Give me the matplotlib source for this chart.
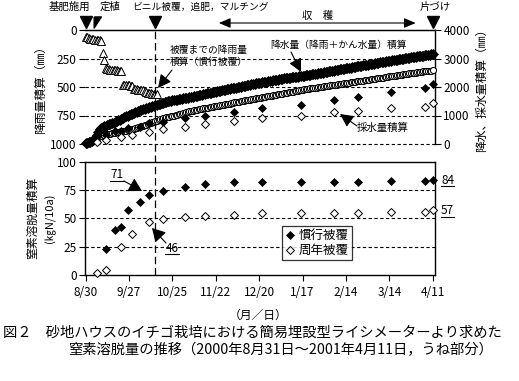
import matplotlib
matplotlib.use('Agg')
import matplotlib.pyplot as plt
import matplotlib.transforms as mtransforms
from matplotlib.lines import Line2D

plt.rcParams['font.family'] = ['Noto Sans CJK JP', 'DejaVu Sans']

W, H = 519, 381

# ---------------- data ----------------
tick_days = [0, 28, 56, 84, 112, 140, 168, 196, 224]
tick_labels = ['8/30', '9/27', '10/25', '11/22', '12/20', '1/17', '2/14', '3/14', '4/11']

# cumulative rainfall until covering (mm), days 0..46 from 8/30
rain_cum = [60, 65, 70, 75, 80, 80, 85, 85, 90, 90, 95, 200, 265, 335, 345,
            345, 350, 350, 355, 355, 355, 360, 360, 360, 480, 480, 482, 485, 485, 488,
            490, 515, 518, 520, 522, 525, 528, 530, 532, 548, 550, 552, 555, 558, 560,
            562, 565]

# cumulative precipitation (rain + irrigation), conventional covering, days 0..224
precip_conv = [40, 45, 55, 80, 110, 150, 200, 310, 420, 520, 560, 590, 620, 645, 670,
               690, 705, 720, 740, 770, 800, 830, 855, 880, 910, 940, 965, 1000, 1020, 1045,
               1070, 1090, 1115, 1135, 1160, 1180, 1200, 1220, 1240, 1260, 1280, 1295, 1315, 1330, 1345,
               1360, 1380, 1395, 1410, 1430, 1450, 1465, 1480, 1495, 1510, 1520, 1530, 1540, 1550, 1560,
               1570, 1580, 1590, 1600, 1610, 1620, 1630, 1640, 1652, 1664, 1676, 1688, 1700, 1712, 1724,
               1736, 1748, 1760, 1772, 1784, 1790, 1802, 1814, 1826, 1838, 1850, 1861, 1872, 1883, 1894,
               1905, 1916, 1927, 1938, 1949, 1960, 1971, 1982, 1993, 2004, 2015, 2026, 2037, 2048, 2059,
               2070, 2081, 2092, 2103, 2114, 2125, 2133, 2140, 2150, 2160, 2170, 2180, 2190, 2200, 2210,
               2220, 2230, 2240, 2250, 2260, 2270, 2280, 2290, 2300, 2305, 2310, 2318, 2326, 2334, 2342,
               2350, 2358, 2366, 2374, 2382, 2390, 2399, 2408, 2417, 2426, 2435, 2444, 2453, 2462, 2471,
               2480, 2489, 2498, 2508, 2518, 2528, 2538, 2548, 2558, 2568, 2578, 2588, 2598, 2608, 2618,
               2628, 2638, 2645, 2650, 2660, 2670, 2680, 2690, 2700, 2710, 2720, 2730, 2740, 2750, 2755,
               2760, 2770, 2780, 2790, 2800, 2810, 2820, 2830, 2840, 2850, 2860, 2870, 2880, 2890, 2900,
               2905, 2910, 2920, 2930, 2940, 2950, 2960, 2970, 2980, 2990, 3000, 3010, 3020, 3030, 3035,
               3040, 3048, 3056, 3064, 3072, 3080, 3088, 3096, 3104, 3112, 3120, 3128, 3136, 3143, 3150]

# cumulative precipitation, year-round covering, days 0..224
precip_year = [40, 45, 55, 70, 95, 130, 175, 215, 245, 270, 290, 305, 320, 335, 345,
               355, 365, 378, 390, 400, 410, 420, 430, 440, 450, 460, 470, 480, 490, 500,
               515, 530, 548, 566, 584, 602, 620, 638, 660, 680, 700, 720, 740, 760, 780,
               800, 820, 840, 860, 880, 900, 915, 930, 945, 960, 972, 985, 1000, 1015, 1030,
               1040, 1055, 1070, 1085, 1100, 1115, 1130, 1145, 1160, 1170, 1180, 1190, 1205, 1220, 1230,
               1240, 1250, 1260, 1270, 1280, 1290, 1300, 1310, 1320, 1330, 1340, 1350, 1360, 1370, 1380,
               1390, 1400, 1410, 1420, 1435, 1450, 1460, 1470, 1480, 1490, 1500, 1510, 1520, 1530, 1540,
               1550, 1560, 1570, 1580, 1590, 1600, 1610, 1620, 1630, 1640, 1650, 1660, 1670, 1680, 1690,
               1700, 1710, 1720, 1730, 1740, 1750, 1760, 1770, 1780, 1790, 1800, 1810, 1820, 1830, 1840,
               1850, 1860, 1870, 1880, 1895, 1910, 1918, 1926, 1934, 1942, 1950, 1958, 1966, 1974, 1982,
               1990, 1998, 2006, 2014, 2022, 2030, 2038, 2046, 2054, 2062, 2070, 2078, 2086, 2094, 2102,
               2110, 2120, 2130, 2140, 2148, 2156, 2164, 2172, 2180, 2188, 2196, 2204, 2212, 2220, 2228,
               2236, 2244, 2252, 2260, 2268, 2276, 2284, 2292, 2300, 2308, 2316, 2324, 2332, 2340, 2350,
               2360, 2370, 2378, 2386, 2394, 2402, 2410, 2418, 2426, 2434, 2442, 2450, 2458, 2466, 2474,
               2482, 2490, 2498, 2506, 2514, 2522, 2530, 2538, 2545, 2552, 2559, 2566, 2572, 2577, 2580]

# sampling days and cumulative drainage (mm)
days_conv = [13, 19, 23, 27, 35, 41, 50, 64, 77, 96, 114, 139, 160, 176, 197, 219, 224]
drain_conv = [320, 440, 470, 550, 610, 720, 780, 900, 980, 1110, 1250, 1370, 1540, 1660, 1840, 1950, 2090]
days_year = [7, 13, 23, 30, 41, 50, 64, 77, 96, 114, 139, 160, 176, 197, 219, 224]
drain_year = [60, 140, 257, 316, 432, 515, 608, 702, 818, 900, 993, 1110, 1158, 1250, 1310, 1450]

# cumulative nitrogen leaching (kgN/10a)
n_conv = [23, 40, 42, 57, 64, 71, 74, 78, 80, 82, 82, 82, 82, 82, 83, 83, 84]
n_year = [2, 4, 25, 36, 47, 49, 51, 52, 53, 55, 55, 55, 55, 56, 56, 57]

cover_day = 45
event_days = [0, 7, 45, 224]
harvest_start, harvest_end = 86, 213

# ---------------- helpers ----------------
def fx(x):
    return x / W

def fy(y):
    return 1 - y / H

fig = plt.figure(figsize=(W / 100, H / 100), dpi=100)
fig.patch.set_facecolor('white')

XL = (-0.45, 225.5)
grid_kw = dict(color='black', lw=0.8, ls=(0, (3, 2.2)))
tick_kw = dict(direction='out', length=4, width=0.8, labelsize=8.5, pad=2, colors='black')

# ---------------- top panel ----------------
ax_t = fig.add_axes([fx(85), fy(144), 350 / W, 114 / H])
ax_t.set_xlim(*XL)
ax_t.set_ylim(1000, 0)
ax_t.set_yticks([0, 250, 500, 750, 1000])
ax_t.set_xticks([])
ax_t.tick_params(axis='y', **tick_kw)
for s in ['left', 'bottom', 'right']:
    ax_t.spines[s].set_visible(False)
ax_t.spines['top'].set_linewidth(1.0)
for v in [250, 500, 750, 1000]:
    ax_t.axhline(v, clip_on=False, zorder=0, **grid_kw)
ax_t.set_ylabel('降雨量積算（㎜）', fontsize=8.5, labelpad=2)

ax_t2 = ax_t.twinx()
ax_t2.set_xlim(*XL)
ax_t2.set_ylim(0, 4000)
ax_t2.set_yticks([0, 1000, 2000, 3000, 4000])
ax_t2.tick_params(axis='y', **tick_kw)
for s in ['left', 'bottom']:
    ax_t2.spines[s].set_visible(False)
ax_t2.spines['right'].set_linewidth(1.0)
ax_t2.set_ylabel('降水、採水量積算（㎜）', fontsize=8.5, labelpad=4)
ax_t2.patch.set_visible(False)

rain_days = list(range(len(rain_cum)))
ax_t.plot(rain_days, rain_cum, ls='none', marker='^', ms=5.5, mfc='white', mec='black',
          mew=0.7, clip_on=False, zorder=3)

pdays = list(range(len(precip_conv)))
ax_t2.plot(pdays, precip_year, ls='none', marker='o', ms=4.4, mfc='white', mec='black',
           mew=0.7, clip_on=False, zorder=3)
ax_t2.plot(pdays, precip_conv, ls='none', marker='D', ms=5.0, mfc='black', mec='black',
           mew=0.5, clip_on=False, zorder=3)
ax_t2.plot(days_conv, drain_conv, ls='none', marker='D', ms=3.6, mfc='black', mec='black',
           mew=0.5, clip_on=False, zorder=4)
ax_t2.plot(days_year, drain_year, ls='none', marker='D', ms=3.6, mfc='white', mec='black',
           mew=0.7, clip_on=False, zorder=4)

# ---------------- bottom panel ----------------
ax_b = fig.add_axes([fx(85), fy(275), 350 / W, 113.3 / H])
ax_b.set_xlim(*XL)
ax_b.set_ylim(0, 100)
ax_b.set_yticks([0, 25, 50, 75, 100])
ax_b.set_xticks(tick_days)
ax_b.set_xticklabels(tick_labels)
ax_b.tick_params(axis='both', **tick_kw)
ax_b.tick_params(axis='x', pad=4)
for s in ax_b.spines.values():
    s.set_linewidth(1.0)
for v in [25, 50, 75]:
    ax_b.axhline(v, zorder=0, **grid_kw)

l1, = ax_b.plot(days_conv, n_conv, ls='none', marker='D', ms=3.8, mfc='black', mec='black',
                mew=0.5, clip_on=False, zorder=4, label='慣行被覆')
l2, = ax_b.plot(days_year, n_year, ls='none', marker='D', ms=3.8, mfc='white', mec='black',
                mew=0.7, clip_on=False, zorder=4, label='周年被覆')

leg = ax_b.legend(handles=[l1, l2], loc='upper left',
                  bbox_to_anchor=(fx(282), fy(226)), bbox_transform=fig.transFigure,
                  fontsize=9, frameon=True, fancybox=False, borderpad=0.25,
                  handlelength=0.8, handletextpad=0.3, labelspacing=0.15, borderaxespad=0)
leg.get_frame().set_edgecolor('black')
leg.get_frame().set_linewidth(0.9)

fig.text(fx(33), fy(218), '窒素溶脱量積算', rotation=90, fontsize=8.5, ha='center', va='center')
fig.text(fx(50), fy(218), '(㎏N/10a)', rotation=90, fontsize=8, ha='center', va='center')

# ---------------- vertical dashed cover line ----------------
tr_v = mtransforms.blended_transform_factory(ax_b.transData, fig.transFigure)
fig.add_artist(Line2D([cover_day, cover_day], [fy(275), fy(30)], transform=tr_v,
                      color='black', lw=0.9, ls=(0, (6, 3))))

# ---------------- header events ----------------
tr_h = mtransforms.blended_transform_factory(ax_t.transData, fig.transFigure)
for d in [event_days[0], event_days[2], event_days[3]]:
    fig.add_artist(Line2D([d], [fy(22)], transform=tr_h, marker='v', ms=8,
                          mfc='black', mec='black', ls='none'))
plant_marker = [(-0.6, 1.0), (0.7, 1.0), (-0.6, -1.0), (-0.6, 1.0)]
fig.add_artist(Line2D([event_days[1]], [fy(22)], transform=tr_h, marker=plant_marker, ms=8,
                      mfc='black', mec='black', ls='none'))

fig.text(fx(69), fy(7), '基肥施用', fontsize=7.5, ha='center', va='center')
fig.text(fx(110), fy(7), '定植', fontsize=7.5, ha='center', va='center')
fig.text(fx(200), fy(7), 'ビニル被覆，追肥，マルチング', fontsize=7, ha='center', va='center')
fig.text(fx(435), fy(7), '片づけ', fontsize=7.5, ha='center', va='center')
fig.text(fx(318), fy(16), '収　穫', fontsize=7.5, ha='center', va='center')
ax_t.annotate('', xy=(harvest_start, fy(23)), xytext=(harvest_end, fy(23)),
              xycoords=tr_h, textcoords=tr_h, annotation_clip=False,
              arrowprops=dict(arrowstyle='<|-|>,head_length=0.7,head_width=0.3',
                              color='black', lw=0.8, mutation_scale=10, shrinkA=0, shrinkB=0))

# ---------------- top panel annotations ----------------
fig.text(fx(170), fy(50), '被覆までの降雨量', fontsize=7, ha='left', va='center')
fig.text(fx(170), fy(62), '積算（慣行被覆）', fontsize=7, ha='left', va='center')
ax_t.annotate('', xy=(fx(158), fy(88)), xytext=(fx(172), fy(70)),
              xycoords='figure fraction', textcoords='figure fraction',
              arrowprops=dict(arrowstyle='-|>,head_length=0.8,head_width=0.4',
                              color='black', lw=0.8, mutation_scale=10, shrinkA=0, shrinkB=0))

fig.text(fx(270), fy(45), '降水量（降雨＋かん水量）積算', fontsize=7, ha='left', va='center')
ax_t.annotate('', xy=(fx(301), fy(72)), xytext=(fx(291), fy(52)),
              xycoords='figure fraction', textcoords='figure fraction',
              arrowprops=dict(arrowstyle='-|>,head_length=0.8,head_width=0.4',
                              color='black', lw=0.8, mutation_scale=10, shrinkA=0, shrinkB=0))

fig.text(fx(357), fy(128), '採水量積算', fontsize=7.5, ha='left', va='center')
ax_t.annotate('', xy=(fx(340), fy(114)), xytext=(fx(357), fy(126)),
              xycoords='figure fraction', textcoords='figure fraction',
              arrowprops=dict(arrowstyle='-|>,head_length=0.8,head_width=0.4',
                              color='black', lw=0.8, mutation_scale=10, shrinkA=0, shrinkB=0))

# ---------------- bottom panel annotations ----------------
def underlined(xc, yc, s, ha='center'):
    fig.text(fx(xc), fy(yc), s, fontsize=8.5, ha=ha, va='center')
    if ha == 'center':
        x0, x1 = xc - 7, xc + 7
    else:
        x0, x1 = xc, xc + 13
    fig.add_artist(Line2D([fx(x0), fx(x1)], [fy(yc + 6), fy(yc + 6)],
                          transform=fig.transFigure, color='black', lw=0.8))

underlined(117, 175, '71')
ax_b.annotate('', xy=(fx(142), fy(191)), xytext=(fx(124), fy(181)),
              xycoords='figure fraction', textcoords='figure fraction',
              arrowprops=dict(arrowstyle='-|>,head_length=0.8,head_width=0.45',
                              color='black', lw=0.8, mutation_scale=10, shrinkA=0, shrinkB=0))
underlined(172, 248, '46')
ax_b.annotate('', xy=(fx(152), fy(228)), xytext=(fx(166), fy(243)),
              xycoords='figure fraction', textcoords='figure fraction',
              arrowprops=dict(arrowstyle='-|>,head_length=0.8,head_width=0.45',
                              color='black', lw=0.8, mutation_scale=10, shrinkA=0, shrinkB=0))
underlined(441, 180, '84', ha='left')
underlined(441, 211, '57', ha='left')

# ---------------- captions ----------------
fig.text(fx(258), fy(315), '（月／日）', fontsize=8.5, ha='center', va='center')
fig.text(fx(3), fy(333), '図２　砂地ハウスのイチゴ栽培における簡易埋設型ライシメーターより求めた',
         fontsize=10.3, ha='left', va='center')
fig.text(fx(68), fy(350), '窒素溶脱量の推移（2000年8月31日～2001年4月11日，うね部分）',
         fontsize=10.3, ha='left', va='center')

fig.savefig('out.png', dpi=100, facecolor='white')
